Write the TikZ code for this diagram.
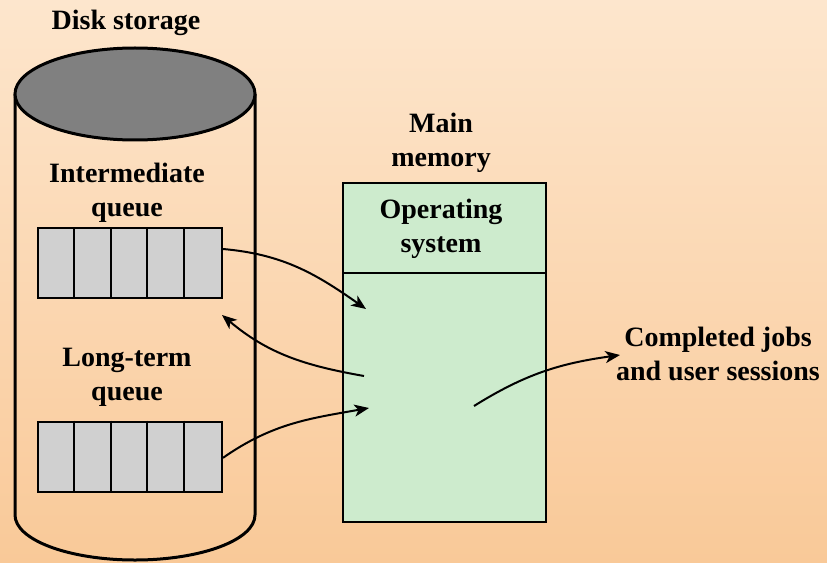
\documentclass[tikz,border=0pt]{standalone}
\usepackage{fontspec}
\setmainfont{Liberation Serif}
\usepackage{tikz}
\usetikzlibrary{shapes.geometric, arrows, arrows.meta}
\usetikzlibrary{positioning}
\definecolor{bgTop}{RGB}{253,230,205}
\definecolor{bgBottom}{RGB}{249,201,152}
\definecolor{memGreen}{RGB}{205,235,205}
\definecolor{cellGray}{RGB}{208,208,208}
\definecolor{diskGray}{RGB}{128,128,128}
\tikzstyle{arrow} = [line width=1.5pt,-{Stealth[length=11pt, width=9pt, inset=3pt]}]
\tikzstyle{txt} = [font=\fontsize{21}{25.5}\selectfont\bfseries, align=center, inner sep=0pt]
\tikzstyle{queueBox} = [
                rectangle,
                minimum width = 138pt,
                minimum height = 52.5pt,
                fill=cellGray,
                draw=black,
                line width=1.5pt
            ]
\tikzstyle{memBox} = [
                rectangle,
                minimum width = 152.25pt,
                fill=memGreen,
                draw=black,
                line width=1.5pt,
                outer sep=0pt,
                txt
            ]

\begin{document}
\begin{tikzpicture}[x=0.75pt, y=-0.75pt]
                            % background
                            \shade[top color=bgTop, bottom color=bgBottom] (0,0) rectangle (827,563);
                            \useasboundingbox (0,0) rectangle (827,563);
                            % disk
                            \draw[line width=2.25pt] (15,94) -- (15,515) arc[start angle=180, end angle=360, x radius=90pt, y radius=33.75pt] -- (255,94);
                            \draw[line width=2.25pt, fill=diskGray] (135,94) ellipse [x radius=90pt, y radius=34.5pt];
                            \node (disk) [txt] at (126,23) {Disk storage};
                            % queues
                            \node (iqLbl) [txt] at (127,193) {Intermediate\\queue};
                            \node (iq) [queueBox] at (130,263) {};
                            \node (lqLbl) [txt] at (127,377) {Long-term\\queue};
                            \node (lq) [queueBox] at (130,456.5) {};
                            \foreach \q in {iq, lq}
                                \foreach \i in {1,...,4}
                                    \draw[line width=1.5pt] ([xshift=\i*27.6pt]\q.north west) -- ([xshift=\i*27.6pt]\q.south west);
                            % main memory
                            \node (mainLbl) [txt] at (441,143) {Main\\memory};
                            \node (os) [memBox, minimum height=67.5pt] at (444.5,228) {};
                            \node (osLbl) [txt] at (441,229) {Operating\\system};
                            \node (user) [memBox, minimum height=186.75pt, below=0pt of os] {};
                            \node (done) [txt] at (718,354) {Completed jobs\\and user sessions};
                            \coordinate (inIq) at (366,309);
                            \coordinate (outIq) at (364,376);
                            \coordinate (inLq) at (369,408);
                            \coordinate (outDone) at (474,406);
                            \coordinate (backIq) at (222,315);
                            % flows
                            \draw [arrow] ([yshift=10.5pt]iq.east) to[out=-5, in=145] (inIq);
                            \draw [arrow] (outIq) to[out=170, in=-40] (backIq);
                            \draw [arrow] ([yshift=-1pt]lq.east) to[out=35, in=190] (inLq);
                            \draw [arrow] (outDone) to[out=32, in=188] (620,355);
                        \end{tikzpicture}
\end{document}
